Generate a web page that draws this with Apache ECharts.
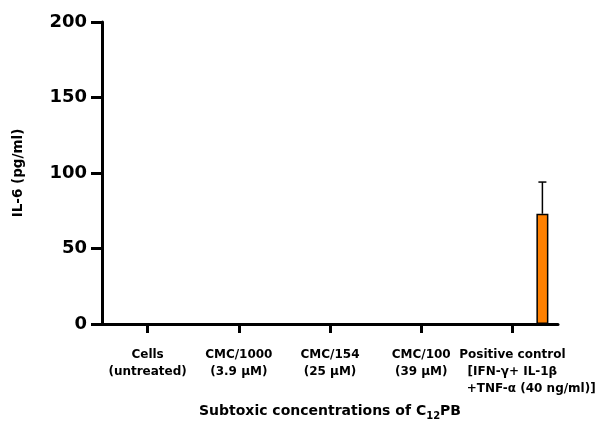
<!DOCTYPE html>
<html>
<head>
<meta charset="utf-8">
<script src="https://cdn.jsdelivr.net/npm/echarts@6/dist/echarts.min.js"></script>
<style>html,body{margin:0;padding:0;background:#fff}#c{width:603px;height:423px}</style>
</head>
<body>
<div id="c"></div>
<script>
var categories = [
  'Cells\n(untreated)',
  'CMC/1000\n(3.9 µM)',
  'CMC/154\n(25 µM)',
  'CMC/100\n(39 µM)',
  'Positive control\n[IFN-γ+ IL-1β\n         +TNF-α (40 ng/ml)]'
];
var il6Mean = [0, 0, 0, 0, 73];
var il6SD = [0, 0, 0, 0, 21];
var yTicks = [0, 50, 100, 150, 200];

var FONT = 'DejaVu Sans';
var BAR_W = 12, GAP = 18, OFFSET = BAR_W + GAP;
var chart = echarts.init(document.getElementById('c'));
var errData = il6Mean.map(function (m, i) { return [i, m, m + il6SD[i]]; }).filter(function (d, i) { return il6SD[i] > 0; });
chart.setOption({
  animation: false,
  grid: { left: 102, right: 45, top: 22, bottom: 99, containLabel: false, outerBoundsMode: 'none' },
  xAxis: {
    type: 'category',
    data: categories,
    name: '{a|Subtoxic concentrations of C}{s|12}{a|PB}',
    nameLocation: 'middle',
    nameGap: 78,
    nameTextStyle: {
      rich: {
        a: { fontFamily: FONT, fontWeight: 'bold', fontSize: 14, color: '#000', verticalAlign: 'bottom', lineHeight: 16 },
        s: { fontFamily: FONT, fontWeight: 'bold', fontSize: 10, color: '#000', verticalAlign: 'bottom', lineHeight: 12, padding: [0, 0, -3, 0] }
      }
    },
    axisLine: { lineStyle: { color: '#000', width: 3 } },
    axisTick: { show: true, interval: 0, alignWithLabel: true, length: 9, lineStyle: { color: '#000', width: 3 } },
    axisLabel: { interval: 0, margin: 22, color: '#000', fontFamily: FONT, fontWeight: 'bold', fontSize: 12, lineHeight: 17 },
    splitLine: { show: false }
  },
  yAxis: {
    type: 'value',
    min: yTicks[0], max: yTicks[yTicks.length - 1], interval: 50,
    name: 'IL-6 (pg/ml)',
    nameLocation: 'middle',
    nameGap: 77,
    nameTextStyle: { fontFamily: FONT, fontWeight: 'bold', fontSize: 13.5, color: '#000' },
    axisLine: { show: true, lineStyle: { color: '#000', width: 3 } },
    axisTick: { show: true, length: 11, lineStyle: { color: '#000', width: 3 } },
    axisLabel: { margin: 15, color: '#000', fontFamily: FONT, fontWeight: 'bold', fontSize: 18 },
    splitLine: { show: false }
  },
  series: [
    { type: 'bar', data: [], barWidth: BAR_W, barGap: (GAP / BAR_W * 100) + '%' },
    { type: 'bar', data: [], barWidth: BAR_W, barGap: (GAP / BAR_W * 100) + '%' },
    {
      type: 'bar', data: il6Mean, barWidth: BAR_W, barGap: (GAP / BAR_W * 100) + '%',
      itemStyle: { color: '#FF8000', borderColor: '#000', borderWidth: 1.5 },
      z: 2
    },
    {
      type: 'custom',
      data: errData,
      z: 1,
      renderItem: function (params, api) {
        var lo = api.coord([api.value(0), api.value(1)]);
        var hi = api.coord([api.value(0), api.value(2)]);
        var x = lo[0] + OFFSET;
        return {
          type: 'group',
          children: [
            { type: 'line', shape: { x1: x, y1: lo[1], x2: x, y2: hi[1] }, style: { stroke: '#000', lineWidth: 1.5 } },
            { type: 'line', shape: { x1: x - 4, y1: hi[1], x2: x + 4, y2: hi[1] }, style: { stroke: '#000', lineWidth: 1.5 } }
          ]
        };
      }
    }
  ]
});
</script>
</body>
</html>
